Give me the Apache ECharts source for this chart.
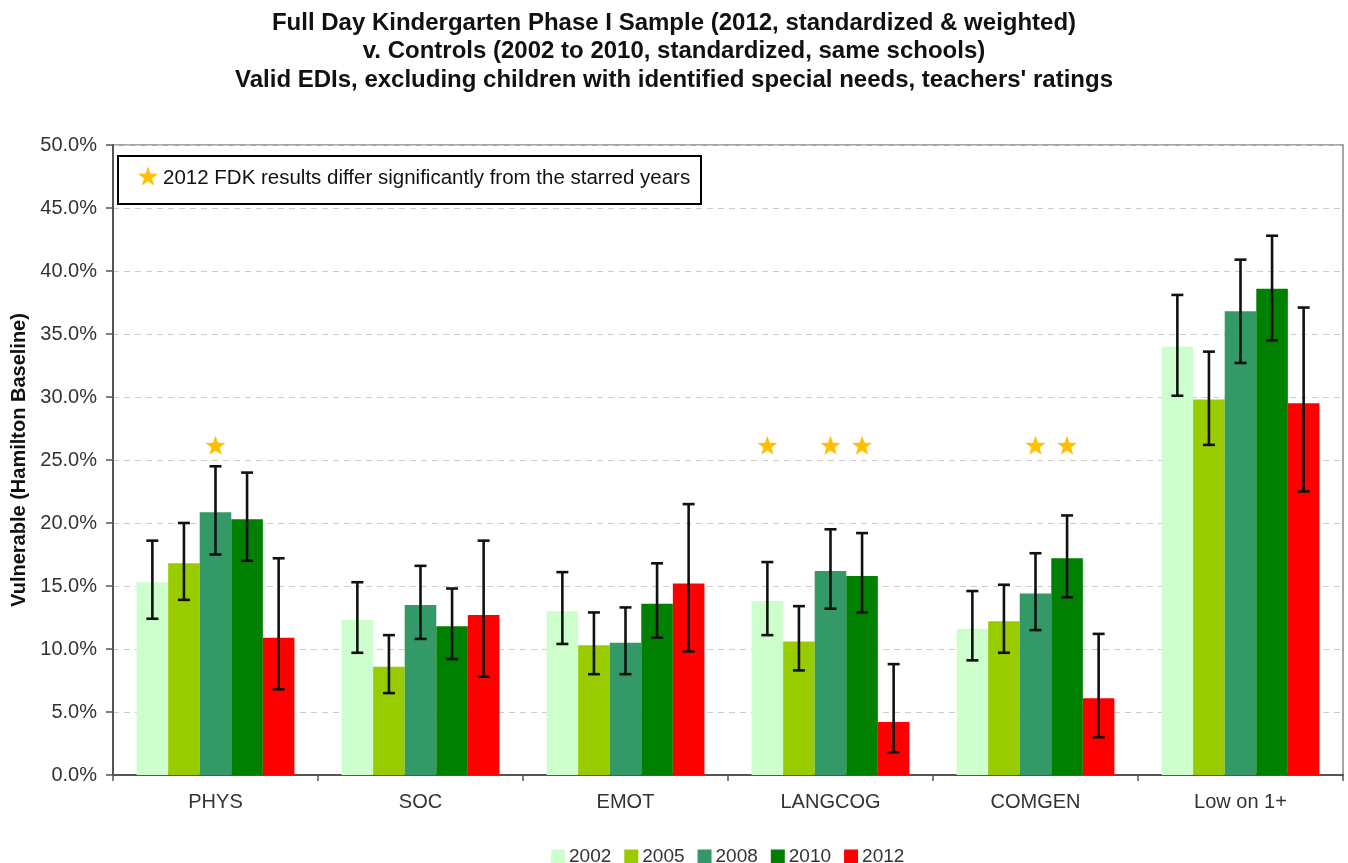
<!DOCTYPE html>
<html>
<head>
<meta charset="utf-8">
<script src="https://cdn.jsdelivr.net/npm/echarts@6/dist/echarts.min.js"></script>
<style>
  html, body { margin: 0; padding: 0; background: #fff; }
  #chart { width: 1348px; height: 863px; }
</style>
</head>
<body>
<div id="chart"></div>
<script>
// Domains and cohort years
const categories = ['PHYS', 'SOC', 'EMOT', 'LANGCOG', 'COMGEN', 'Low on 1+'];
const years = ['2002', '2005', '2008', '2010', '2012'];

// Percent vulnerable per domain, one array per year
const v2002 = [15.3, 12.3, 13.0, 13.8, 11.6, 34.0];
const v2005 = [16.8, 8.6, 10.3, 10.6, 12.2, 29.8];
const v2008 = [20.85, 13.5, 10.5, 16.2, 14.4, 36.8];
const v2010 = [20.3, 11.8, 13.6, 15.8, 17.2, 38.6];
const v2012 = [10.9, 12.7, 15.2, 4.2, 6.1, 29.5];

// Confidence interval bounds (low / high) per year
const lo2002 = [12.4, 9.7, 10.4, 11.1, 9.1, 30.1];
const hi2002 = [18.6, 15.3, 16.1, 16.9, 14.6, 38.1];
const lo2005 = [13.9, 6.5, 8.0, 8.3, 9.7, 26.2];
const hi2005 = [20.0, 11.1, 12.9, 13.4, 15.1, 33.6];
const lo2008 = [17.5, 10.8, 8.0, 13.2, 11.5, 32.7];
const hi2008 = [24.5, 16.6, 13.3, 19.5, 17.6, 40.9];
const lo2010 = [17.0, 9.2, 10.9, 12.9, 14.1, 34.5];
const hi2010 = [24.0, 14.8, 16.8, 19.2, 20.6, 42.8];
const lo2012 = [6.8, 7.8, 9.8, 1.8, 3.0, 22.5];
const hi2012 = [17.2, 18.6, 21.5, 8.8, 11.2, 37.1];

// Years that differ significantly from 2012 FDK, per domain
const starredPHYS = ['2008'];
const starredLANGCOG = ['2002', '2008', '2010'];
const starredCOMGEN = ['2008', '2010'];

// Y-axis ticks
const yMin = 0, yMax = 50, yStep = 5;

const values = [v2002, v2005, v2008, v2010, v2012];
const lows = [lo2002, lo2005, lo2008, lo2010, lo2012];
const highs = [hi2002, hi2005, hi2008, hi2010, hi2012];
const colors = ['#CCFFCC', '#99CC00', '#339966', '#008000', '#FF0000'];
const starColor = '#FFC000';
const starLevel = 26.1;
const CAT_GAP = 0.23;
const FONT = '"Liberation Sans", Arial, sans-serif';

const starred = [
  ['PHYS', starredPHYS],
  ['LANGCOG', starredLANGCOG],
  ['COMGEN', starredCOMGEN]
];

function starPoints(cx, cy, rOut, rIn) {
  const pts = [];
  for (let k = 0; k < 10; k++) {
    const r = k % 2 === 0 ? rOut : rIn;
    const a = -Math.PI / 2 + k * Math.PI / 5;
    pts.push([cx + r * Math.cos(a), cy + r * Math.sin(a)]);
  }
  return pts;
}

function barOffset(api, yi) {
  const band = api.size([1, 0])[0];
  const barW = band * (1 - CAT_GAP) / years.length;
  return (yi - (years.length - 1) / 2) * barW;
}

const series = [];
years.forEach((y, yi) => {
  series.push({
    name: y,
    type: 'bar',
    data: values[yi],
    barGap: '0%',
    barCategoryGap: (CAT_GAP * 100) + '%',
    itemStyle: { color: colors[yi] },
    z: 2
  });
});

// Error bars, one custom series per year
years.forEach((y, yi) => {
  series.push({
    type: 'custom',
    name: 'err' + y,
    data: categories.map((c, ci) => [ci, lows[yi][ci], highs[yi][ci]]),
    encode: { x: 0, y: [1, 2] },
    z: 5,
    silent: true,
    renderItem: function (params, api) {
      const ci = api.value(0);
      const pLo = api.coord([ci, api.value(1)]);
      const pHi = api.coord([ci, api.value(2)]);
      const x = pLo[0] + barOffset(api, yi);
      const cap = 6;
      const style = { stroke: '#111', lineWidth: 2.6, fill: null };
      return {
        type: 'group',
        children: [
          { type: 'line', shape: { x1: x, y1: pLo[1], x2: x, y2: pHi[1] }, style: style },
          { type: 'line', shape: { x1: x - cap, y1: pHi[1], x2: x + cap, y2: pHi[1] }, style: style },
          { type: 'line', shape: { x1: x - cap, y1: pLo[1], x2: x + cap, y2: pLo[1] }, style: style }
        ]
      };
    }
  });
});

// Significance stars
const starData = [];
starred.forEach(([cat, ys]) => {
  ys.forEach(y => starData.push([categories.indexOf(cat), starLevel, years.indexOf(y)]));
});
series.push({
  type: 'custom',
  name: 'stars',
  data: starData,
  encode: { x: 0, y: 1 },
  z: 6,
  silent: true,
  renderItem: function (params, api) {
    const p = api.coord([api.value(0), api.value(1)]);
    const x = p[0] + barOffset(api, api.value(2));
    return {
      type: 'polygon',
      shape: { points: starPoints(x, p[1], 10.5, 4.3) },
      style: { fill: starColor }
    };
  }
});

const chart = echarts.init(document.getElementById('chart'), null, { renderer: 'canvas' });
chart.setOption({
  animation: false,
  backgroundColor: '#fff',
  textStyle: { fontFamily: FONT },
  title: {
    text: 'Full Day Kindergarten Phase I Sample (2012, standardized & weighted)\nv. Controls (2002 to 2010, standardized, same schools)\nValid EDIs, excluding children with identified special needs, teachers\' ratings',
    left: 'center',
    top: 4,
    textStyle: { fontFamily: FONT, fontSize: 24, fontWeight: 'bold', color: '#111', lineHeight: 28.5 }
  },
  grid: { left: 113, right: 5, top: 145, bottom: 88, show: true, borderColor: '#888', borderWidth: 1.5, backgroundColor: 'transparent' },
  legend: {
    data: years,
    left: 546,
    top: 842,
    itemWidth: 14,
    itemHeight: 14,
    itemGap: 13,
    icon: 'rect',
    textStyle: { fontFamily: FONT, fontSize: 19, color: '#333', padding: [0, 0, 0, -1] }
  },
  xAxis: {
    type: 'category',
    data: categories,
    axisLine: { lineStyle: { color: '#555', width: 2 } },
    axisTick: { show: true, length: 6, lineStyle: { color: '#555', width: 1.5 } },
    axisLabel: { fontFamily: FONT, fontSize: 20, color: '#333', margin: 17 },
    splitLine: { show: false }
  },
  yAxis: {
    type: 'value',
    min: yMin,
    max: yMax,
    interval: yStep,
    name: 'Vulnerable (Hamilton Baseline)',
    nameLocation: 'middle',
    nameRotate: 90,
    nameGap: 83,
    nameTextStyle: { fontFamily: FONT, fontSize: 20, fontWeight: 'bold', color: '#111' },
    axisLine: { show: true, lineStyle: { color: '#555', width: 2 } },
    axisTick: { show: true, length: 7, lineStyle: { color: '#555', width: 1.5 } },
    axisLabel: {
      fontFamily: FONT, fontSize: 20, color: '#333', margin: 16,
      formatter: v => v.toFixed(1) + '%'
    },
    splitLine: { show: true, lineStyle: { color: '#ccc', type: [6, 5], width: 1.2 } }
  },
  graphic: [
    {
      type: 'rect',
      left: 117, top: 155,
      shape: { width: 583, height: 48 },
      style: { fill: '#fff', stroke: '#000', lineWidth: 2 },
      z: 10
    },
    {
      type: 'polygon',
      shape: { points: starPoints(148, 177, 10.5, 4.3) },
      style: { fill: starColor },
      z: 11
    },
    {
      type: 'text',
      left: 163, top: 168,
      style: { text: '2012 FDK results differ significantly from the starred years', font: '20.5px ' + FONT, fill: '#111' },
      z: 11
    }
  ],
  series: series
});
</script>
</body>
</html>
